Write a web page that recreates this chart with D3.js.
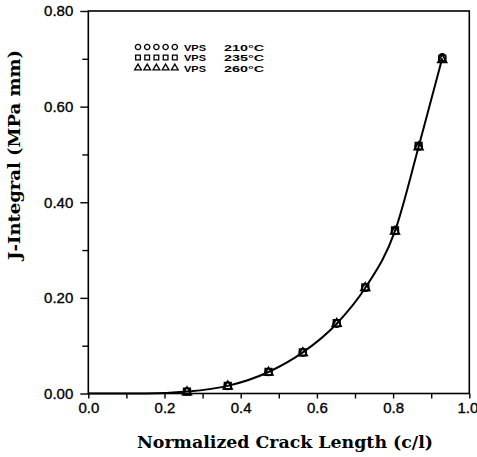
<!DOCTYPE html>
<html><head><meta charset="utf-8">
<script src="https://cdn.jsdelivr.net/npm/d3@7"></script>
<style>body{margin:0;background:#fff}svg{display:block}</style>
</head><body>
<svg id="chart" width="477" height="457"></svg>
<script>
const crackLength = [0.259, 0.366, 0.473, 0.563, 0.652, 0.727, 0.805, 0.867, 0.929];
const jVPS210 = [0.004, 0.016, 0.045, 0.086, 0.146, 0.221, 0.340, 0.516, 0.703];
const jVPS235 = [0.004, 0.016, 0.045, 0.086, 0.147, 0.222, 0.341, 0.518, 0.700];
const jVPS260 = [0.003, 0.015, 0.044, 0.085, 0.146, 0.221, 0.339, 0.515, 0.698];
const fitX = [0.0, 0.15, 0.259, 0.366, 0.473, 0.563, 0.652, 0.727, 0.805, 0.867, 0.929];
const fitJ = [0.0, 0.0, 0.004, 0.016, 0.045, 0.086, 0.146, 0.221, 0.340, 0.516, 0.701];
const seriesNames = ["VPS", "VPS", "VPS"];
const seriesTemps = ["210°C", "235°C", "260°C"];
const xTicks = [0.0, 0.2, 0.4, 0.6, 0.8, 1.0];
const yTicks = [0.0, 0.2, 0.4, 0.6, 0.8];
const xTitle = "Normalized Crack Length (c/l)";
const yTitle = "J-Integral (MPa mm)";

const svg = d3.select("#chart");
const L = 88.3, R = 469.3, T = 11, B = 393.5;
const x = d3.scaleLinear().domain([0, 1]).range([L, R]);
const y = d3.scaleLinear().domain([0, 0.8]).range([B, T]);

// frame
svg.append("rect").attr("x", L).attr("y", T).attr("width", R - L).attr("height", B - T)
  .attr("fill", "none").attr("stroke", "#000").attr("stroke-width", 1.6);

// axes
const tickFont = "'Liberation Sans', Arial, sans-serif";
const isMajor = (arr, d) => arr.some(t => Math.abs(t - d) < 1e-6);
const xAxis = d3.axisBottom(x).tickValues(d3.range(0, 1.001, 0.1)).tickSize(5)
  .tickFormat(d => isMajor(xTicks, d) ? d3.format(".1f")(d) : "");
const gx = svg.append("g").attr("transform", `translate(0,${B})`).call(xAxis);
gx.select(".domain").remove();
gx.selectAll(".tick line").attr("stroke", "#000").attr("stroke-width", 1.4);
gx.selectAll(".tick text").attr("font-family", tickFont).attr("font-size", 15)
  .attr("fill", "#000").attr("stroke", "#000").attr("stroke-width", 0.35).attr("dy", "0.9em").attr("y", 6)
  .attr("dx", d => d > 0.99 ? -2 : 0);

const yAxis = d3.axisLeft(y).tickValues(d3.range(0, 0.8001, 0.1)).tickSize(6)
  .tickFormat(d => isMajor(yTicks, d) ? d3.format(".2f")(d) : "");
const gy = svg.append("g").attr("transform", `translate(${L},0)`).call(yAxis);
gy.select(".domain").remove();
gy.selectAll(".tick line").attr("stroke", "#000").attr("stroke-width", 1.4)
  .attr("x2", d => isMajor(yTicks, d) ? -8 : -6);
gy.selectAll(".tick text").attr("font-family", tickFont).attr("font-size", 15)
  .attr("fill", "#000").attr("stroke", "#000").attr("stroke-width", 0.35).attr("x", -15);

// fit curve
const fitData = fitX.map((v, i) => [v, fitJ[i]]);
svg.append("path").datum(fitData)
  .attr("d", d3.line().x(d => x(d[0])).y(d => y(d[1])).curve(d3.curveMonotoneX))
  .attr("fill", "none").attr("stroke", "#000").attr("stroke-width", 2);

// markers
const symTypes = [d3.symbolCircle, d3.symbolSquare, d3.symbolTriangle];
const symSizes = [38, 44, 34];
const allSeries = [jVPS210, jVPS235, jVPS260];
allSeries.forEach((vals, s) => {
  svg.append("g").selectAll("path").data(vals).join("path")
    .attr("transform", (d, i) => `translate(${x(crackLength[i])},${y(d)})`)
    .attr("d", d3.symbol().type(symTypes[s]).size(symSizes[s]))
    .attr("fill", "none").attr("stroke", "#000").attr("stroke-width", 1.6);
});

// legend
const legRows = [47, 57.5, 68];
seriesTemps.forEach((t, s) => {
  const g = svg.append("g");
  d3.range(5).forEach(k => {
    g.append("path").attr("transform", `translate(${138 + k * 9.2},${legRows[s]})`)
      .attr("d", d3.symbol().type(symTypes[s]).size(s === 2 ? 20 : 22))
      .attr("fill", "none").attr("stroke", "#000").attr("stroke-width", 1.3);
  });
  g.append("text").attr("x", 184).attr("y", legRows[s] + 3.6).text(seriesNames[s])
    .attr("font-family", tickFont).attr("font-weight", "bold").attr("font-size", 9.5)
    .attr("textLength", 22).attr("lengthAdjust", "spacingAndGlyphs");
  g.append("text").attr("x", 224).attr("y", legRows[s] + 3.6).text(t)
    .attr("font-family", tickFont).attr("font-weight", "bold").attr("font-size", 9.5)
    .attr("textLength", 40).attr("lengthAdjust", "spacingAndGlyphs");
});

// titles
const titleFont = "'DejaVu Serif', serif";
svg.append("text").attr("x", 137).attr("y", 448).text(xTitle)
  .attr("font-family", titleFont).attr("font-weight", "bold").attr("font-size", 17.5)
  .attr("textLength", 296).attr("lengthAdjust", "spacingAndGlyphs");
svg.append("text").attr("transform", "translate(20,260) rotate(-90)").text(yTitle)
  .attr("font-family", titleFont).attr("font-weight", "bold").attr("font-size", 17.5)
  .attr("textLength", 210).attr("lengthAdjust", "spacingAndGlyphs");
</script>
</body></html>
